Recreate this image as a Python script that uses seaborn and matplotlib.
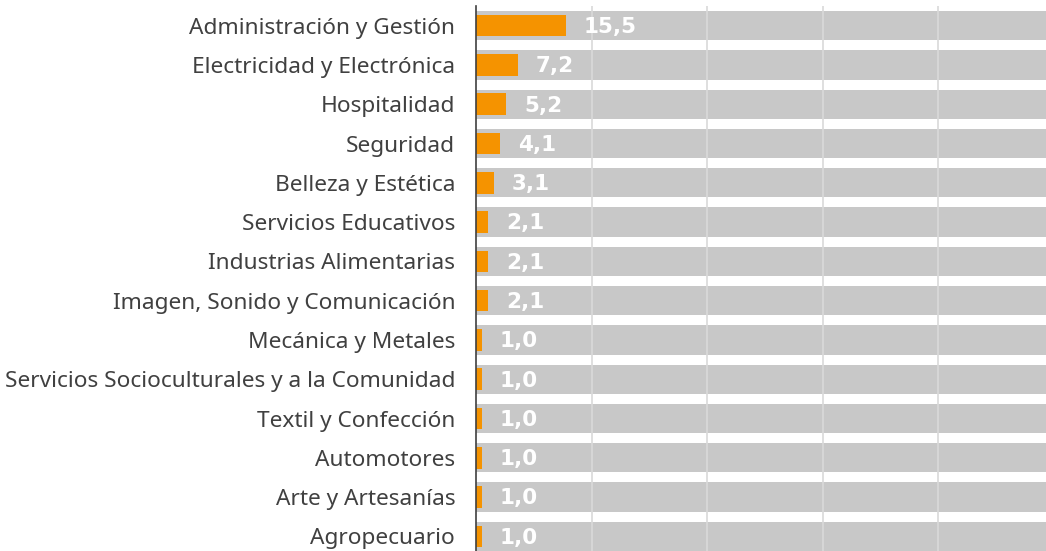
import matplotlib
matplotlib.use("Agg")
import matplotlib.pyplot as plt
import seaborn as sns
import pandas as pd

categories = [
    "Administración y Gestión",
    "Electricidad y Electrónica",
    "Hospitalidad",
    "Seguridad",
    "Belleza y Estética",
    "Servicios Educativos",
    "Industrias Alimentarias",
    "Imagen, Sonido y Comunicación",
    "Mecánica y Metales",
    "Servicios Socioculturales y a la Comunidad",
    "Textil y Confección",
    "Automotores",
    "Arte y Artesanías",
    "Agropecuario",
]
values = [15.5, 7.2, 5.2, 4.1, 3.1, 2.1, 2.1, 2.1, 1.0, 1.0, 1.0, 1.0, 1.0, 1.0]
background = [100] * len(categories)

df = pd.DataFrame({"cat": categories, "val": values, "bg": background})

sns.set_theme(style="white")
plt.rcParams["font.family"] = ["Noto Sans", "DejaVu Sans"]

fig = plt.figure(figsize=(10.46, 5.51), dpi=100)
ax = fig.add_axes([476 / 1046, -5 / 551, 578 / 1046, 550 / 551])

sns.barplot(data=df, y="cat", x="bg", order=categories, color="#C8C8C8",
            width=0.745, ax=ax, saturation=1, zorder=1)
sns.barplot(data=df, y="cat", x="val", order=categories, color="#F59300",
            width=0.55, ax=ax, saturation=1, zorder=2)

for c in ax.patches:
    c.set_edgecolor("none")

ax.set_xlim(0, 100)
ax.set_ylim(len(categories) - 0.5, -0.5)
ax.set_xticks([20, 40, 60, 80])
ax.xaxis.grid(True, color="#D9D9D9", linewidth=1.2, zorder=3)
ax.set_axisbelow(False)
for ln in ax.get_xgridlines():
    ln.set_zorder(3)
ax.tick_params(axis="x", length=0, labelbottom=False)
ax.tick_params(axis="y", length=0, pad=15, labelsize=16.3, labelcolor="#404040")
ax.set_xlabel("")
ax.set_ylabel("")
for s in ["top", "right", "bottom"]:
    ax.spines[s].set_visible(False)
ax.spines["left"].set_color("#404040")
ax.spines["left"].set_linewidth(1.2)
ax.spines["left"].set_zorder(5)

for i, v in enumerate(values):
    ax.annotate(f"{v:.1f}".replace(".", ","), xy=(v, i), xytext=(13, -1),
                textcoords="offset points", va="center", ha="left",
                color="white", fontsize=15.5, fontweight="bold",
                family=["DejaVu Sans"], zorder=6)

fig.savefig("out.png", dpi=100)
